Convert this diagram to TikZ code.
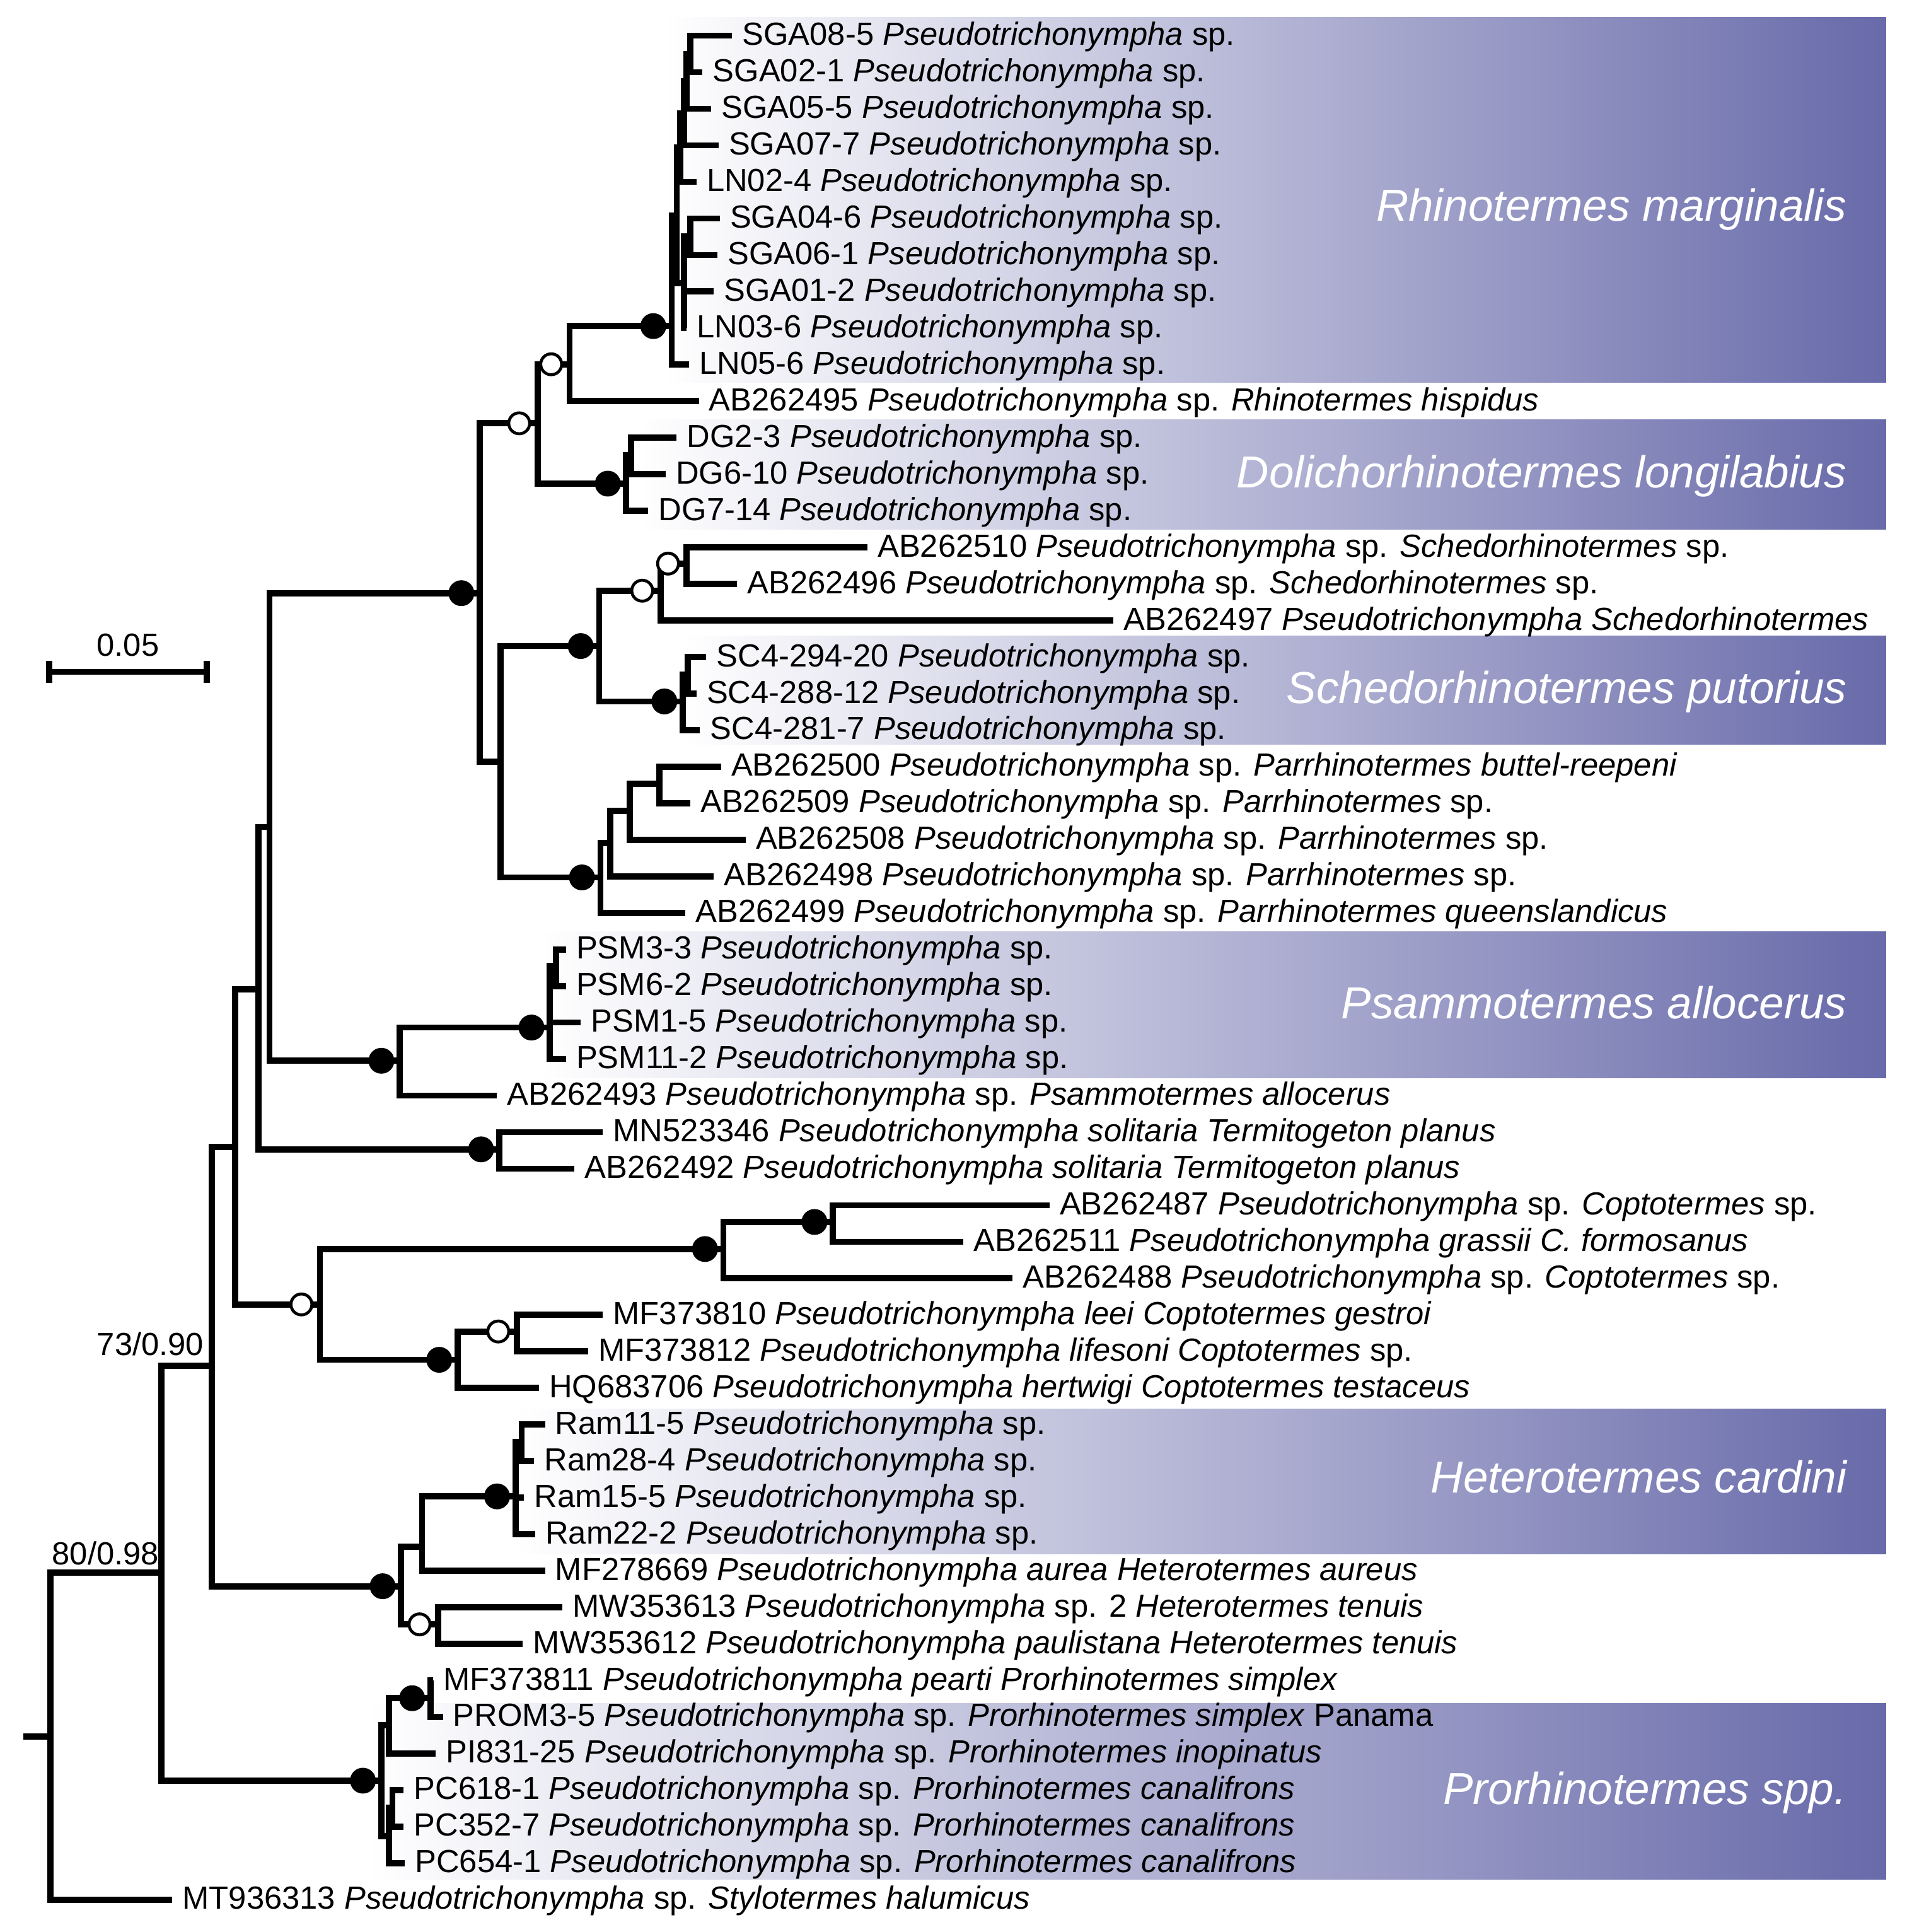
\documentclass[tikz,border=0pt]{standalone}
\usepackage{fontspec}
\setmainfont{Liberation Sans}
\usetikzlibrary{positioning}
\definecolor{cladepurple}{RGB}{104,106,170}
\newcommand{\Ps}{\textit{Pseudotrichonympha}}
\tikzset{
  branch/.style={line width=2.5pt, line join=miter},
  tip/.style={anchor=west, inner sep=0pt, xshift=4pt, yshift=-0.5pt, font=\fontsize{13}{15}\selectfont},
  full dot/.style={circle, fill=black, inner sep=0pt, minimum size=10.5pt, xshift=-7.5pt},
  open dot/.style={circle, draw=black, fill=white, line width=1.2pt, inner sep=0pt, minimum size=8.5pt, xshift=-7.5pt},
  clade text/.style={anchor=east, text=white, font=\fontsize{18.2}{21}\selectfont\itshape},
  support/.style={inner sep=1pt, font=\fontsize{13}{15}\selectfont}
}
\begin{document}
\begin{tikzpicture}[x=0.5pt,y=-0.5pt]
\useasboundingbox (0,0) rectangle (1550,1570);

% clade bands
\foreach \xl/\yt/\yb/\nm in {540/14/311/rm, 520/341/430/dl, 555/517/605/sp, 440/757/876/pa, 420/1145/1263/hc, 300/1384/1527/ps}
  \shade[left color=white, right color=cladepurple] (\xl,\yt) rectangle (1533,\yb);
\node[clade text] (rm) at (1508,170) {Rhinotermes marginalis};
\node[clade text] (dl) at (1508,387) {Dolichorhinotermes longilabius};
\node[clade text] (sp) at (1508,562) {Schedorhinotermes putorius};
\node[clade text] (pa) at (1508,815) {Psammotermes allocerus};
\node[clade text] (hc) at (1508,1200) {Heterotermes cardini};
\node[clade text] (pp) at (1508,1457) {Prorhinotermes spp.};

% internal nodes
\foreach \n/\x/\y in {root/41/1411, n80/131/1278, n73/172/1110, c191/191/932, b210/210/804,
  a219/219/672, big/390/482, rd/437/344, rh/463/296, r0/546/265, r1/550/175, r2/553/120,
  r5/556/92, r6/558/66, r7/561/44, r3/556/230, r4/561/192, dol/509/393, dol1/513/370,
  sp/407/619, s3/487/525, s2/537/480, s1/558/458, sc2/555/570, sc1/559/548,
  p4/488/713, p3/496/685, p2/512/659, p1/536/637, psa/325/862, ps0/447/835, ps1/452/785,
  ter/406/934, cop/260/1060, cp1/588/1015, cp2/677/993, cl1/372/1105, cl2/420/1082,
  het/326/1289, h1/343/1257, h2/419/1216, h3/424/1172, mw/356/1320,
  pr/310/1447, prb/316/1402, pra/350/1380, pc/316/1492, pcs/319/1469}
  \coordinate (\n) at (\x,\y);
\coordinate (stub) at (19,1411);

% tips
\foreach \r/\x/\lab in {
  1/595/{SGA08-5 \Ps{} sp.}, 2/571/{SGA02-1 \Ps{} sp.}, 3/578/{SGA05-5 \Ps{} sp.},
  4/584/{SGA07-7 \Ps{} sp.}, 5/566/{LN02-4 \Ps{} sp.}, 6/585/{SGA04-6 \Ps{} sp.},
  7/583/{SGA06-1 \Ps{} sp.}, 8/580/{SGA01-2 \Ps{} sp.}, 9/558/{LN03-6 \Ps{} sp.},
  10/560/{LN05-6 \Ps{} sp.}, 11/568/{AB262495 \Ps{} sp. \textit{Rhinotermes hispidus}},
  12/550/{DG2-3 \Ps{} sp.}, 13/541/{DG6-10 \Ps{} sp.}, 14/527/{DG7-14 \Ps{} sp.},
  15/705/{AB262510 \Ps{} sp. \textit{Schedorhinotermes} sp.},
  16/599/{AB262496 \Ps{} sp. \textit{Schedorhinotermes} sp.},
  17/905/{AB262497 \textit{Pseudotrichonympha Schedorhinotermes}},
  18/574/{SC4-294-20 \Ps{} sp.}, 19/566/{SC4-288-12 \Ps{} sp.}, 20/569/{SC4-281-7 \Ps{} sp.},
  21/586/{AB262500 \Ps{} sp. \textit{Parrhinotermes buttel-reepeni}},
  22/561/{AB262509 \Ps{} sp. \textit{Parrhinotermes} sp.},
  23/606/{AB262508 \Ps{} sp. \textit{Parrhinotermes} sp.},
  24/580/{AB262498 \Ps{} sp. \textit{Parrhinotermes} sp.},
  25/557/{AB262499 \Ps{} sp. \textit{Parrhinotermes queenslandicus}},
  26/460/{PSM3-3 \Ps{} sp.}, 27/460/{PSM6-2 \Ps{} sp.}, 28/472/{PSM1-5 \Ps{} sp.},
  29/460/{PSM11-2 \Ps{} sp.}, 30/404/{AB262493 \Ps{} sp. \textit{Psammotermes allocerus}},
  31/490/{MN523346 \textit{Pseudotrichonympha solitaria Termitogeton planus}},
  32/467/{AB262492 \textit{Pseudotrichonympha solitaria Termitogeton planus}},
  33/853/{AB262487 \Ps{} sp. \textit{Coptotermes} sp.},
  34/783/{AB262511 \textit{Pseudotrichonympha grassii C. formosanus}},
  35/823/{AB262488 \Ps{} sp. \textit{Coptotermes} sp.},
  36/490/{MF373810 \textit{Pseudotrichonympha leei Coptotermes gestroi}},
  37/478/{MF373812 \textit{Pseudotrichonympha lifesoni Coptotermes} sp.},
  38/438/{HQ683706 \textit{Pseudotrichonympha hertwigi Coptotermes testaceus}},
  39/443/{Ram11-5 \Ps{} sp.}, 40/434/{Ram28-4 \Ps{} sp.}, 41/426/{Ram15-5 \Ps{} sp.},
  42/435/{Ram22-2 \Ps{} sp.},
  43/443/{MF278669 \textit{Pseudotrichonympha aurea Heterotermes aureus}},
  44/457/{MW353613 \Ps{} sp. 2 \textit{Heterotermes tenuis}},
  45/425/{MW353612 \textit{Pseudotrichonympha paulistana Heterotermes tenuis}},
  46/352/{MF373811 \textit{Pseudotrichonympha pearti Prorhinotermes simplex}},
  47/360/{PROM3-5 \Ps{} sp. \textit{Prorhinotermes simplex} Panama},
  48/354/{PI831-25 \Ps{} sp. \textit{Prorhinotermes inopinatus}},
  49/328/{PC618-1 \Ps{} sp. \textit{Prorhinotermes canalifrons}},
  50/328/{PC352-7 \Ps{} sp. \textit{Prorhinotermes canalifrons}},
  51/329/{PC654-1 \Ps{} sp. \textit{Prorhinotermes canalifrons}},
  52/140/{MT936313 \Ps{} sp. \textit{Stylotermes halumicus}}}
{
  \coordinate (t\r) at (\x,{29+29.7*(\r-1)});
  \node[tip] (t\r-l) at (t\r) {\lab};
}

% branches
\draw[branch] (stub) -- (root);
\foreach \p/\c in {root/n80, root/t52, n80/n73, n80/pr, n73/c191, n73/het,
  c191/b210, c191/cop, b210/a219, b210/ter, a219/big, a219/psa, big/rd, big/sp,
  rd/rh, rd/dol, rh/r0, rh/t11, r0/r1, r0/t10, r1/r2, r1/r3, r2/r5, r2/t5,
  r5/r6, r5/t4, r6/r7, r6/t3, r7/t1, r7/t2, r3/r4, r3/t8, r3/t9, r4/t6, r4/t7,
  dol/dol1, dol/t14, dol1/t12, dol1/t13, sp/s3, sp/p4, s3/s2, s3/sc2, s2/s1, s2/t17,
  s1/t15, s1/t16, sc2/sc1, sc2/t20, sc1/t18, sc1/t19, p4/p3, p4/t25, p3/p2, p3/t24,
  p2/p1, p2/t23, p1/t21, p1/t22, psa/ps0, psa/t30, ps0/ps1, ps0/t28, ps0/t29,
  ps1/t26, ps1/t27, ter/t31, ter/t32, cop/cp1, cop/cl1, cp1/cp2, cp1/t35,
  cp2/t33, cp2/t34, cl1/cl2, cl1/t38, cl2/t36, cl2/t37, het/h1, het/mw,
  h1/h2, h1/t43, h2/h3, h2/t41, h2/t42, h3/t39, h3/t40, mw/t44, mw/t45,
  pr/prb, pr/pc, prb/pra, prb/t48, pra/t46, pra/t47, pc/pcs, pc/t51, pcs/t49, pcs/t50}
  \draw[branch] (\p) |- (\c);

% support
\foreach \n in {big, r0, dol, s3, sc2, p4, psa, ps0, ter, cp1, cp2, cl1, het, h2, pr, pra}
  \node[full dot] at (\n) {};
\foreach \n in {rd, rh, s2, s1, cop, cl2, mw}
  \node[open dot] at (\n) {};
\node[support, anchor=south west] (s80) at (40,1274) {80/0.98};
\node[support, anchor=south east] (s73) at (168,1104) {73/0.90};

% scale bar
\coordinate (sb1) at (40,546);
\coordinate (sb2) at (168,546);
\draw[line width=2.5pt] (sb1) -- (sb2);
\draw[line width=2.5pt] ([yshift=-4.5pt]sb1) -- ([yshift=4.5pt]sb1);
\draw[line width=2.5pt] ([yshift=-4.5pt]sb2) -- ([yshift=4.5pt]sb2);
\node[support, anchor=south] (sbl) at (104,536) {0.05};
\end{tikzpicture}
\end{document}
